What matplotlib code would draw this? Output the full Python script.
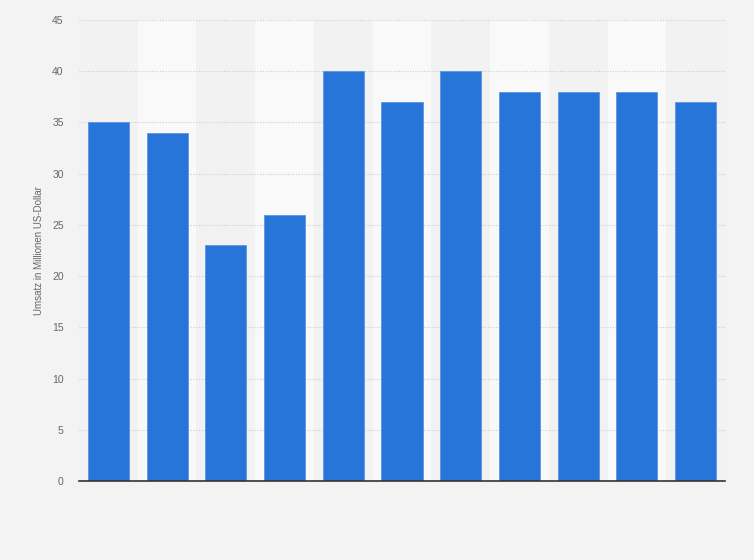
import matplotlib
matplotlib.use("Agg")
import matplotlib.pyplot as plt
import numpy as np

plt.rcParams["font.family"] = ["Liberation Sans", "DejaVu Sans"]

categories = ["1", "2", "3", "4", "5", "6", "7", "8", "9", "10", "11"]
values = [35, 34, 23, 26, 40, 37, 40, 38, 38, 38, 37]
yticks = [0, 5, 10, 15, 20, 25, 30, 35, 40, 45]

fig = plt.figure(figsize=(7.54, 5.6), dpi=100)
fig.patch.set_facecolor("#f3f3f3")
ax = fig.add_axes([79/754, 1-481/560, (725-79)/754, (481-20)/560])
ax.set_facecolor("#f3f3f3")

x = np.arange(len(categories))
for i in x:
    ax.axvspan(i-0.5, i+0.5, color="#f2f2f2" if i % 2 == 0 else "#f9f9f9", zorder=0, lw=0)

ax.bar(x, values, width=0.70, color="#2775d9", edgecolor="#5b95e3", linewidth=0.6, zorder=3)

ax.set_xlim(-0.5, len(categories)-0.5)
ax.set_ylim(0, 45)
ax.set_yticks(yticks)
ax.set_yticklabels([str(t) for t in yticks], color="#666666", fontsize=7.5)
ax.set_xticks([])
ax.tick_params(axis="y", length=0, pad=11)
ax.yaxis.grid(True, linestyle=(0, (1, 1.5)), color="#cccccc", linewidth=0.8, zorder=1)
for s in ["top", "right", "left"]:
    ax.spines[s].set_visible(False)
ax.spines["bottom"].set_color("#333333")
ax.spines["bottom"].set_linewidth(1.2)
ax.spines["bottom"].set_zorder(4)

ax.set_ylabel("Umsatz in Millionen US-Dollar", fontsize=7, color="#666666", labelpad=6)

fig.savefig("out.png", dpi=100, facecolor=fig.get_facecolor())
